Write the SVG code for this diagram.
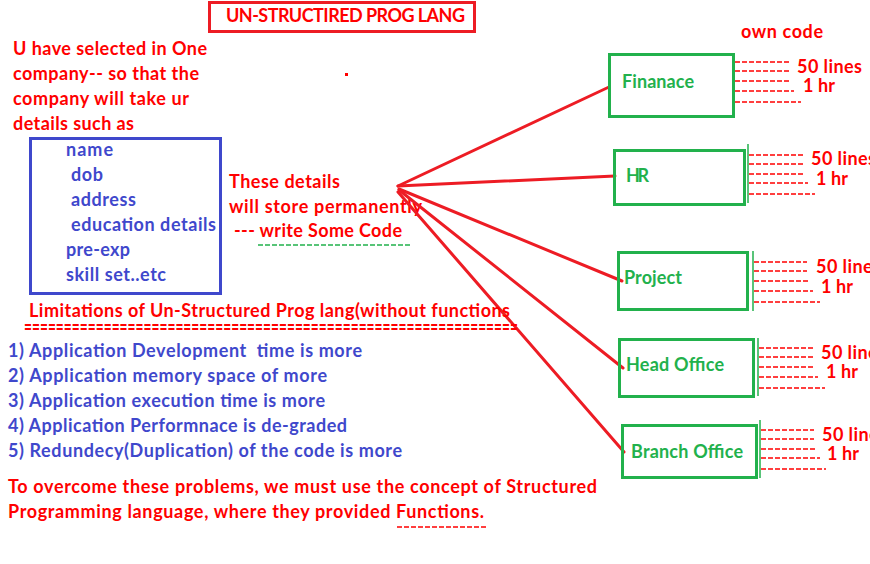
<svg xmlns="http://www.w3.org/2000/svg" width="870" height="564" viewBox="0 0 870 564">
<style>
text{font-family:Lato,"Open Sans","Liberation Sans",sans-serif;font-size:18px;font-weight:700}
.r{fill:#ff0000}
.b{fill:#3f48cc}
.g{fill:#22b14c}
.eq{font-size:22px}
.rb{fill:none;stroke:#ed1c24;stroke-width:3}
.gb{fill:none;stroke:#22b14c;stroke-width:3}
.gv{stroke:#22b14c;stroke-width:1.5}
.bb{fill:none;stroke:#3f48cc;stroke-width:3}
.d{stroke:#ff0000;stroke-width:1.5;stroke-dasharray:5 2;fill:none}
.dg{stroke:#22b14c;stroke-width:1.5;stroke-dasharray:5 2;fill:none}
.c{stroke:#ed1c24;stroke-width:3;fill:none;stroke-linecap:round}
</style>
<rect width="870" height="564" fill="#ffffff"/>

<g id="title">
<rect class="rb" x="209.5" y="2.5" width="265" height="29"/>
<text class="r" x="226" y="22" textLength="239">UN-STRUCTIRED PROG LANG</text>
</g>

<g id="intro">
<text class="r" x="13" y="55" textLength="194">U have selected in One</text>
<text class="r" x="13" y="80" textLength="186">company-- so that the</text>
<text class="r" x="13" y="105" textLength="176">company will take ur</text>
<text class="r" x="13" y="130" textLength="121">details such as</text>
<rect x="345" y="73" width="3" height="3" fill="#ff0000"/>
</g>

<g id="details">
<rect class="bb" x="30.5" y="138.5" width="190" height="155"/>
<text class="b" x="66" y="156" textLength="47">name</text>
<text class="b" x="71" y="181" textLength="32">dob</text>
<text class="b" x="71" y="206" textLength="65">address</text>
<text class="b" x="71" y="231" textLength="145">education details</text>
<text class="b" x="66" y="256" textLength="64">pre-exp</text>
<text class="b" x="66" y="281" textLength="100">skill set..etc</text>
</g>

<g id="store">
<text class="r" x="229" y="188" textLength="111">These details</text>
<text class="r" x="229" y="213" textLength="193">will store permanently</text>
<text class="r" x="234" y="237" textLength="168">--- write Some Code</text>
<line class="dg" x1="258" y1="245" x2="412" y2="245"/>
</g>

<g id="connectors">
<line class="c" x1="398" y1="186" x2="609" y2="87"/>
<line class="c" x1="398" y1="186" x2="615" y2="176"/>
<line class="c" x1="399" y1="189" x2="622" y2="281"/>
<line class="c" x1="399" y1="190" x2="623" y2="368"/>
<line class="c" x1="398" y1="192" x2="624" y2="452"/>
</g>

<g id="own-code">
<text class="r" x="741" y="38" textLength="82">own code</text>
</g>

<g id="finance">
<rect class="gb" x="609.5" y="54.5" width="124" height="62"/>
<text class="g" x="622" y="88" textLength="72">Finanace</text>
<line class="d" x1="735" y1="62" x2="789" y2="62"/>
<line class="d" x1="735" y1="71" x2="789" y2="71"/>
<line class="d" x1="735" y1="81" x2="791" y2="81"/>
<line class="d" x1="735" y1="91" x2="794" y2="91"/>
<line class="d" x1="735" y1="102" x2="801" y2="102"/>
<text class="r" x="797" y="73" textLength="65">50 lines</text>
<text class="r" x="803" y="92" textLength="32">1 hr</text>
</g>

<g id="hr">
<rect class="gb" x="614.5" y="150.5" width="130" height="54"/>
<line class="gv" x1="748" y1="144" x2="748" y2="203"/>
<text class="g" x="626" y="182" textLength="23">HR</text>
<line class="d" x1="749" y1="155" x2="803" y2="155"/>
<line class="d" x1="749" y1="164" x2="803" y2="164"/>
<line class="d" x1="749" y1="174" x2="805" y2="174"/>
<line class="d" x1="749" y1="183" x2="808" y2="183"/>
<line class="d" x1="749" y1="194" x2="815" y2="194"/>
<text class="r" x="811" y="165" textLength="65">50 lines</text>
<text class="r" x="816" y="185" textLength="32">1 hr</text>
</g>

<g id="project">
<rect class="gb" x="618.5" y="252.5" width="129" height="57"/>
<line class="gv" x1="753" y1="251" x2="753" y2="311"/>
<text class="g" x="624" y="284" textLength="58">Project</text>
<line class="d" x1="754" y1="262" x2="807" y2="262"/>
<line class="d" x1="754" y1="271" x2="807" y2="271"/>
<line class="d" x1="754" y1="281" x2="810" y2="281"/>
<line class="d" x1="754" y1="291" x2="813" y2="291"/>
<line class="d" x1="754" y1="302" x2="820" y2="302"/>
<text class="r" x="816" y="273" textLength="65">50 lines</text>
<text class="r" x="821" y="293" textLength="32">1 hr</text>
</g>

<g id="head-office">
<rect class="gb" x="619.5" y="339.5" width="134" height="57"/>
<line class="gv" x1="758" y1="338" x2="758" y2="396"/>
<text class="g" x="626" y="371" textLength="98">Head Office</text>
<line class="d" x1="759" y1="348" x2="813" y2="348"/>
<line class="d" x1="759" y1="357" x2="813" y2="357"/>
<line class="d" x1="759" y1="367" x2="815" y2="367"/>
<line class="d" x1="759" y1="377" x2="818" y2="377"/>
<line class="d" x1="759" y1="388" x2="825" y2="388"/>
<text class="r" x="821" y="359" textLength="65">50 lines</text>
<text class="r" x="826" y="378" textLength="32">1 hr</text>
</g>

<g id="branch-office">
<rect class="gb" x="622.5" y="425.5" width="134" height="52"/>
<line class="gv" x1="760" y1="420" x2="760" y2="478"/>
<text class="g" x="631" y="458" textLength="112">Branch Office</text>
<line class="d" x1="761" y1="430" x2="814" y2="430"/>
<line class="d" x1="761" y1="439" x2="814" y2="439"/>
<line class="d" x1="761" y1="449" x2="816" y2="449"/>
<line class="d" x1="761" y1="458" x2="820" y2="458"/>
<line class="d" x1="761" y1="469" x2="826" y2="469"/>
<text class="r" x="822" y="441" textLength="65">50 lines</text>
<text class="r" x="827" y="460" textLength="32">1 hr</text>
</g>

<g id="limitations">
<text class="r" x="29" y="317" textLength="481">Limitations of Un-Structured Prog lang(without functions</text>
<text class="r eq" x="24" y="335" textLength="494" lengthAdjust="spacingAndGlyphs">==============================================================</text>
<text class="b" x="8" y="357" textLength="354" xml:space="preserve">1) Application Development  time is more</text>
<text class="b" x="8" y="382" textLength="319">2) Application memory space of more</text>
<text class="b" x="8" y="407" textLength="317">3) Application execution time is more</text>
<text class="b" x="8" y="432" textLength="339">4) Application Performnace is de-graded</text>
<text class="b" x="8" y="457" textLength="394">5) Redundecy(Duplication) of the code is more</text>
</g>

<g id="conclusion">
<text class="r" x="8" y="493" textLength="589">To overcome these problems, we must use the concept of Structured</text>
<text class="r" x="8" y="518" textLength="476">Programming language, where they provided Functions.</text>
<line class="d" x1="397" y1="527" x2="487" y2="527"/>
</g>
</svg>
